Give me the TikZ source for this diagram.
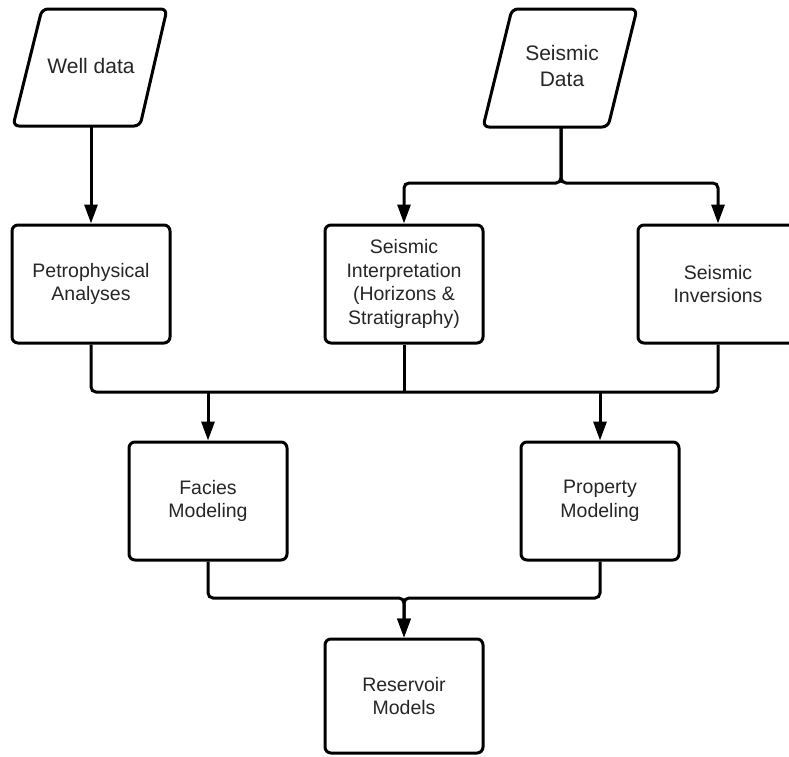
\documentclass[tikz,border=0pt]{standalone}
\usepackage{fontspec}
\setmainfont{Liberation Sans}
\usetikzlibrary{arrows.meta}
\begin{document}
\begin{tikzpicture}[x=1pt,y=-1pt,
  box/.style={draw, line width=3pt, rounded corners=6pt, minimum width=158pt, minimum height=118pt,
    align=center, font=\fontsize{19.5}{23.5}\selectfont, inner sep=0pt, fill=white, text=black!85},
  para/.style={draw, line width=3pt, rounded corners=6pt, fill=white},
  ptext/.style={align=center, font=\fontsize{21}{26.5}\selectfont, inner sep=0pt, text=black!85},
  conn/.style={line width=3pt, rounded corners=5pt},
  arr/.style={conn, -{Triangle[length=19pt,width=13pt]}}]
\useasboundingbox (0,0) rectangle (789,756);
\clip (0,0) rectangle (789,756);
% input parallelograms
\draw[para] (42,9) -- (167,9) -- (140,126) -- (13,126) -- cycle;
\node[ptext] (well) at (91,66) {Well data};
\coordinate (wellout) at (91,126);
\draw[para] (512,9) -- (637,9) -- (608,127) -- (483,127) -- cycle;
\node[ptext] (seis) at (562,66) {Seismic\\Data};
\coordinate (seisout) at (561,127);
\coordinate (sj) at (561,183);
% boxes
\node[box] (petro) at (91,284) {Petrophysical\\Analyses};
\node[box] (interp) at (404,284) {Seismic\\Interpretation\\(Horizons \&\\Stratigraphy)};
\node[box, minimum width=160pt] (inv) at (718,284) {Seismic\\Inversions};
\node[box] (facies) at (208,501) {Facies\\Modeling};
\node[box] (prop) at (600,501) {Property\\Modeling};
\node[box, minimum height=114pt] (res) at (404,696) {Reservoir\\Models};
% connectors
\draw[arr] (wellout) -- (petro.north);
\draw[arr] (seisout) -- (sj) -| (interp.north);
\draw[arr] (seisout) -- (sj) -| (inv.north);
\coordinate (j1) at (404,392);
\draw[conn] (petro.south) |- (j1) -| (inv.south);
\draw[conn] (interp.south) -- (j1);
\draw[arr] (facies.north |- j1) -- (facies.north);
\draw[arr] (prop.north |- j1) -- (prop.north);
\coordinate (j2) at (404,598);
\draw[arr] (facies.south) |- (j2) -- (res.north);
\draw[arr] (prop.south) |- (j2) -- (res.north);
\end{tikzpicture}
\end{document}
